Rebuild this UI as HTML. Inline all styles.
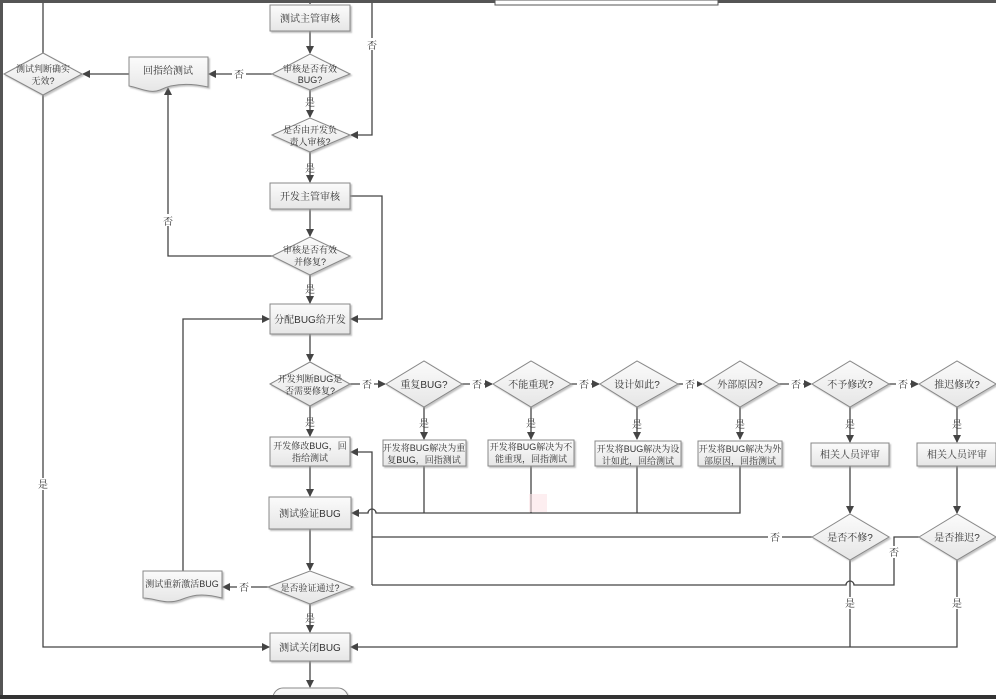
<!DOCTYPE html>
<html><head><meta charset="utf-8"><style>
html,body{margin:0;padding:0;background:#fff;}
svg{display:block;}
text{font-family:"Liberation Sans","Noto Serif CJK SC","Noto Sans CJK SC",serif;font-size:10px;fill:#333;text-anchor:middle;}
text.s{font-size:9px;}
.n{fill:url(#g);stroke:#888;stroke-width:1;}
.l{fill:none;stroke:#444;stroke-width:1.3;}
</style></head><body>
<svg width="996" height="699" viewBox="0 0 996 699" xmlns="http://www.w3.org/2000/svg">
<defs>
<linearGradient id="g" x1="0" y1="0" x2="0" y2="1"><stop offset="0" stop-color="#fbfbfb"/><stop offset="1" stop-color="#e6e6e6"/></linearGradient>
<marker id="a" markerWidth="8" markerHeight="8" refX="7" refY="4" orient="auto" markerUnits="userSpaceOnUse"><path d="M0,0 L8,4 L0,8 z" fill="#444"/></marker>
<filter id="s"><feDropShadow dx="1.5" dy="1.5" stdDeviation="0.8" flood-color="#999" flood-opacity="0.6"/></filter>
</defs>
<rect width="996" height="699" fill="#fff"/>
<g class="l">
<path d="M310 0 V4"/>
<path d="M310 31 V53" marker-end="url(#a)"/>
<path d="M272 74 H209" marker-end="url(#a)"/>
<path d="M129 74 H83" marker-end="url(#a)"/>
<path d="M43 0 V53"/>
<path d="M43 95 V647 H269" marker-end="url(#a)"/>
<path d="M372 0 V135 H351" marker-end="url(#a)"/>
<path d="M310 90 V117" marker-end="url(#a)"/>
<path d="M310 152 V182" marker-end="url(#a)"/>
<path d="M350 196 H382 V319 H351" marker-end="url(#a)"/>
<path d="M310 209 V236" marker-end="url(#a)"/>
<path d="M272 256 H168 V88" marker-end="url(#a)"/>
<path d="M310 275 V303" marker-end="url(#a)"/>
<path d="M183 571 V319 H269" marker-end="url(#a)"/>
<path d="M310 334 V361" marker-end="url(#a)"/>
<path d="M310 406 V436" marker-end="url(#a)"/>
<path d="M310 466 V496" marker-end="url(#a)"/>
<path d="M310 529 V570" marker-end="url(#a)"/>
<path d="M268 587 H223" marker-end="url(#a)"/>
<path d="M310 604 V632" marker-end="url(#a)"/>
<path d="M310 661 V687" marker-end="url(#a)"/>
<path d="M350 384 H385" marker-end="url(#a)"/>
<path d="M462 384 H492" marker-end="url(#a)"/>
<path d="M571 384 H599" marker-end="url(#a)"/>
<path d="M678 384 H702" marker-end="url(#a)"/>
<path d="M779 384 H811" marker-end="url(#a)"/>
<path d="M889 384 H918" marker-end="url(#a)"/>
<path d="M424 407 V439" marker-end="url(#a)"/>
<path d="M531 407 V439" marker-end="url(#a)"/>
<path d="M637 407 V439" marker-end="url(#a)"/>
<path d="M740 407 V439" marker-end="url(#a)"/>
<path d="M850 407 V442" marker-end="url(#a)"/>
<path d="M957 407 V442" marker-end="url(#a)"/>
<path d="M424 466 V513"/><path d="M531 466 V513"/><path d="M637 466 V513"/>
<path d="M740 466 V513 H376 A4 4 0 0 0 368 513 H352" marker-end="url(#a)"/>
<path d="M372 585 V452 H351" marker-end="url(#a)"/>
<path d="M812 537 H372"/>
<path d="M919 537 H894 V585 H854 A4 4 0 0 0 846 585 H372"/>
<path d="M850 466 V513" marker-end="url(#a)"/>
<path d="M957 466 V513" marker-end="url(#a)"/>
<path d="M850 560 V647"/>
<path d="M957 560 V647 H351" marker-end="url(#a)"/>
</g>
<g filter="url(#s)">
<rect class="n" x="270" y="5" width="80" height="26"/>
<polygon class="n" points="272,74 310,54 350,74 310,90"/>
<path class="n" d="M129 57 H208 V87 C185 82 170 85 160 90 C150 94 140 88 129 86 Z"/>
<polygon class="n" points="4,74 43,53 82,74 43,95"/>
<polygon class="n" points="272,135 310,118 350,135 310,152"/>
<rect class="n" x="270" y="183" width="80" height="26"/>
<polygon class="n" points="272,256 310,237 350,256 310,275"/>
<rect class="n" x="270" y="304" width="80" height="30"/>
<polygon class="n" points="270,384 310,362 350,384 310,406"/>
<rect class="n" x="270" y="437" width="80" height="29"/>
<rect class="n" x="269" y="497" width="82" height="32"/>
<polygon class="n" points="268,587 310,571 353,587 310,604"/>
<path class="n" d="M143 571 H222 V598 C200 592 190 596 180 600 C165 605 155 598 143 598 Z"/>
<rect class="n" x="270" y="633" width="80" height="28"/>
<rect class="n" x="273" y="688" width="75" height="20" rx="10"/>
<polygon class="n" points="386,384 424,361 462,384 424,407"/>
<polygon class="n" points="493,384 531,361 571,384 531,407"/>
<polygon class="n" points="600,384 637,361 678,384 637,407"/>
<polygon class="n" points="703,384 740,361 779,384 740,407"/>
<polygon class="n" points="812,384 850,361 889,384 850,407"/>
<polygon class="n" points="919,384 957,361 996,384 957,407"/>
<rect class="n" x="383" y="440" width="83" height="26"/>
<rect class="n" x="488" y="440" width="86" height="26"/>
<rect class="n" x="595" y="441" width="86" height="25"/>
<rect class="n" x="698" y="441" width="84" height="25"/>
<rect class="n" x="811" y="443" width="78" height="23"/>
<rect class="n" x="917" y="443" width="79" height="23"/>
<polygon class="n" points="812,537 850,514 889,537 850,560"/>
<polygon class="n" points="919,537 957,514 996,537 957,560"/>
</g>
<rect x="529" y="494" width="18" height="18" fill="#fbe3e6" opacity="0.6"/>
<text x="310" y="22">测试主管审核</text>
<text class="s" x="310" y="72">审核是否有效</text><text class="s" x="310" y="83">BUG?</text>
<text x="168" y="74">回指给测试</text>
<text class="s" x="43" y="72">测试判断确实</text><text class="s" x="43" y="84">无效?</text>
<text class="s" x="310" y="133">是否由开发负</text><text class="s" x="310" y="145">责人审核?</text>
<text x="310" y="200">开发主管审核</text>
<text class="s" x="310" y="253">审核是否有效</text><text class="s" x="310" y="265">并修复?</text>
<text x="310" y="323">分配BUG给开发</text>
<text class="s" x="310" y="382">开发判断BUG是</text><text class="s" x="310" y="394">否需要修复?</text>
<text class="s" x="310" y="449">开发修改BUG，回</text><text class="s" x="310" y="461">指给测试</text>
<text x="310" y="517">测试验证BUG</text>
<text class="s" x="310" y="591">是否验证通过?</text>
<text class="s" x="182" y="587">测试重新激活BUG</text>
<text x="310" y="651">测试关闭BUG</text>
<text x="424" y="388">重复BUG?</text>
<text x="531" y="388">不能重现?</text>
<text x="637" y="388">设计如此?</text>
<text x="740" y="388">外部原因?</text>
<text x="850" y="388">不予修改?</text>
<text x="957" y="388">推迟修改?</text>
<text class="s" x="424" y="451">开发将BUG解决为重</text><text class="s" x="424" y="463">复BUG，回指测试</text>
<text class="s" x="531" y="450">开发将BUG解决为不</text><text class="s" x="531" y="462">能重现，回指测试</text>
<text class="s" x="638" y="452">开发将BUG解决为设</text><text class="s" x="638" y="464">计如此，回给测试</text>
<text class="s" x="740" y="452">开发将BUG解决为外</text><text class="s" x="740" y="464">部原因，回指测试</text>
<text x="850" y="458">相关人员评审</text>
<text x="957" y="458">相关人员评审</text>
<text x="850" y="541">是否不修?</text>
<text x="957" y="541">是否推迟?</text>
<g>
<rect x="232" y="68" width="14" height="12" fill="#fff"/><text x="239" y="78">否</text>
<rect x="365" y="38" width="14" height="12" fill="#fff"/><text x="372" y="49">否</text>
<text x="310" y="106">是</text><text x="310" y="172">是</text>
<rect x="161" y="214" width="14" height="12" fill="#fff"/><text x="168" y="225">否</text>
<text x="310" y="293">是</text>
<rect x="36" y="478" width="14" height="12" fill="#fff"/><text x="43" y="488">是</text>
<text x="310" y="426">是</text><text x="424" y="427">是</text><text x="531" y="427">是</text><text x="637" y="428">是</text><text x="740" y="428">是</text><text x="850" y="428">是</text><text x="957" y="428">是</text>
<rect x="360" y="378" width="14" height="12" fill="#fff"/><text x="367" y="388">否</text>
<rect x="470" y="378" width="14" height="12" fill="#fff"/><text x="477" y="388">否</text>
<rect x="577" y="378" width="14" height="12" fill="#fff"/><text x="584" y="388">否</text>
<rect x="683" y="378" width="14" height="12" fill="#fff"/><text x="690" y="388">否</text>
<rect x="789" y="378" width="14" height="12" fill="#fff"/><text x="796" y="388">否</text>
<rect x="896" y="378" width="14" height="12" fill="#fff"/><text x="903" y="388">否</text>
<rect x="768" y="531" width="14" height="12" fill="#fff"/><text x="775" y="541">否</text>
<rect x="887" y="546" width="14" height="12" fill="#fff"/><text x="894" y="556">否</text>
<rect x="843" y="597" width="14" height="12" fill="#fff"/><text x="850" y="607">是</text>
<rect x="950" y="597" width="14" height="12" fill="#fff"/><text x="957" y="607">是</text>
<rect x="237" y="581" width="14" height="12" fill="#fff"/><text x="244" y="591">否</text>
<text x="310" y="622">是</text>
</g>
<rect x="0" y="0" width="996" height="3" fill="#555"/>
<rect x="0" y="0" width="3" height="699" fill="#555"/>
<rect x="0" y="695" width="996" height="4" fill="#333"/>
<rect x="495" y="0" width="223" height="5" fill="#fff" stroke="#555"/>
</svg>
</body></html>
